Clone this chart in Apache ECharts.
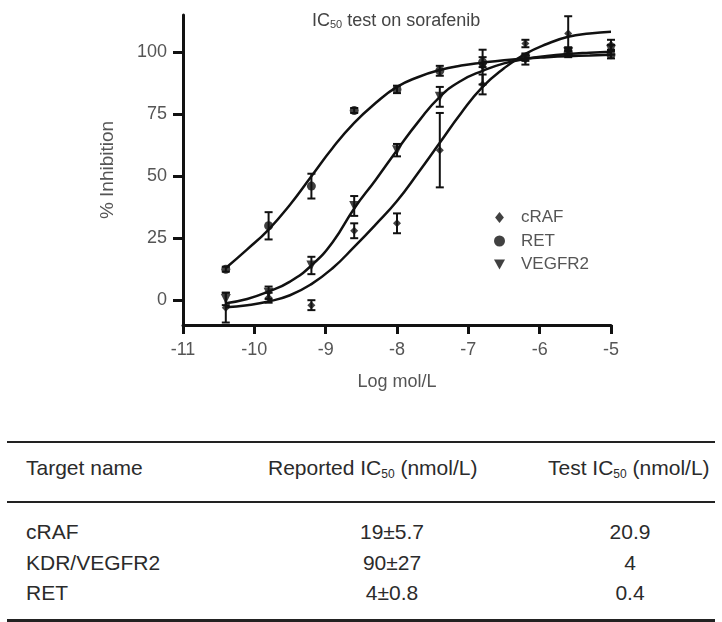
<!DOCTYPE html>
<html>
<head>
<meta charset="utf-8">
<script src="https://cdn.jsdelivr.net/npm/echarts@6/dist/echarts.min.js"></script>
<style>
  html, body { margin: 0; padding: 0; background: #fff; }
  #wrap { position: relative; width: 722px; height: 622px; overflow: hidden; }
  #chart { position: absolute; left: 0; top: 0; width: 722px; height: 410px; }
  .rule { position: absolute; left: 7px; width: 708px; background: #222; }
  .cell { position: absolute; font-family: 'Liberation Sans', Arial, sans-serif; font-size: 21px;
          color: #2b2b2b; line-height: 24px; white-space: nowrap; }
  .cell sub { font-size: 12px; vertical-align: -3px; line-height: 0; }
</style>
</head>
<body>
<div id="wrap">
  <div id="chart"></div>
  <div id="table"></div>
</div>
<script>
// Doses on the log mol/L axis (4-fold dilution series)
const logConc = [-10.4, -9.8, -9.2, -8.6, -8.0, -7.4, -6.8, -6.2, -5.6, -5.0];

// Mean % inhibition and the +/- error
const crafMean   = [-3, 1, -2, 28, 31, 60.5, 87, 103.5, 107.5, 103];
const crafErr    = [6, 2, 2, 3, 4, 15, 4, 1.5, 7, 2];
const retMean    = [12.5, 30, 46, 76.5, 85, 92.5, 96, 98, 100, 99];
const retErr     = [1, 5.5, 5, 1, 1.5, 2, 2, 1.5, 1.5, 1.5];
const vegfr2Mean = [0.5, 3, 14, 38, 60.5, 82, 94, 97, 100, 101];
const vegfr2Err  = [2.5, 2.5, 3.5, 4, 2.5, 4, 7, 2, 2, 2];

// Fitted dose-response curves, sampled from the plot
const fitX      = [-10.4, -10.1, -9.8, -9.5, -9.2, -8.9, -8.6, -8.3, -8.0, -7.7, -7.4, -7.1, -6.8, -6.5, -6.2, -5.9, -5.6, -5.3, -5.0];
const crafFit   = [-2.8, -2, -0.5, 2, 6.5, 13, 21.5, 30.5, 40, 51.5, 63.5, 75.5, 86, 93.5, 99.3, 103.3, 106.2, 107.5, 108.2];
const retFit    = [13, 20.5, 28.5, 38.5, 50, 61.5, 71.5, 79.5, 86, 90, 92.8, 94.6, 95.8, 96.8, 97.5, 98, 98.4, 98.7, 99];
const vegfr2Fit = [-1.2, 0.5, 3.5, 7.5, 14, 23.5, 37, 48.5, 60.5, 72, 82, 88.5, 92.5, 95.5, 97.3, 98.5, 99.3, 99.8, 100.2];

const yTicks = [0, 25, 50, 75, 100];

// Summary table
const targetNames  = ['cRAF', 'KDR/VEGFR2', 'RET'];
const reportedIC50 = ['19±5.7', '90±27', '4±0.8'];
const testIC50     = ['20.9', '4', '0.4'];

const ink = '#111';
const grey = '#555';
const font = "'Liberation Sans', Arial, sans-serif";
const downTriangle = 'path://M0,0 L10,0 L5,9 Z';
const smallDiamond = 'path://M4,0 L8,5 L4,10 L0,5 Z';

function points(xs, ys) {
  return xs.map((x, i) => [x, ys[i]]);
}

function bars(means, errs) {
  return logConc.map((x, i) => [x, means[i] - errs[i], means[i] + errs[i]]);
}

// Draw one vertical error bar with caps
function errorBarItem(params, api) {
  const x = api.value(0);
  const lo = api.coord([x, api.value(1)]);
  const hi = api.coord([x, api.value(2)]);
  const cap = 4;
  const style = { stroke: ink, lineWidth: 2 };
  return {
    type: 'group',
    children: [
      { type: 'line', shape: { x1: lo[0], y1: lo[1], x2: hi[0], y2: hi[1] }, style },
      { type: 'line', shape: { x1: lo[0] - cap, y1: lo[1], x2: lo[0] + cap, y2: lo[1] }, style },
      { type: 'line', shape: { x1: hi[0] - cap, y1: hi[1], x2: hi[0] + cap, y2: hi[1] }, style }
    ]
  };
}

function fitSeries(name, ys) {
  return {
    name: name, type: 'line', data: points(fitX, ys), smooth: true,
    showSymbol: false, silent: true, z: 2,
    lineStyle: { color: ink, width: 2.5 }
  };
}

function errSeries(name, means, errs) {
  return {
    name: name, type: 'custom', data: bars(means, errs), renderItem: errorBarItem,
    encode: { x: 0, y: [1, 2] }, z: 3, silent: true
  };
}

function dotSeries(name, means, symbol, size) {
  return {
    name: name, type: 'scatter', data: points(logConc, means), symbol: symbol,
    symbolSize: size, itemStyle: { color: ink }, z: 4
  };
}

const chart = echarts.init(document.getElementById('chart'), null, { renderer: 'canvas' });

chart.setOption({
  animation: false,
  title: {
    text: '{a|IC}{s|50}{a| test on sorafenib}',
    left: 307, top: 5,
    textStyle: {
      fontWeight: 'normal',
      rich: {
        a: { fontSize: 18, fontWeight: 'normal', color: '#444', fontFamily: font, verticalAlign: 'bottom', lineHeight: 20 },
        s: { fontSize: 11, fontWeight: 'normal', color: '#444', fontFamily: font, verticalAlign: 'bottom', lineHeight: 14 }
      }
    }
  },
  legend: {
    orient: 'vertical', left: 489, top: 204,
    itemWidth: 11, itemHeight: 11, itemGap: 6.5,
    selectedMode: false,
    textStyle: { fontSize: 17, color: grey, fontFamily: font, lineHeight: 17, padding: [0, 0, 0, 11] },
    data: [
      { name: 'cRAF', icon: smallDiamond },
      { name: 'RET', icon: 'circle' },
      { name: 'VEGFR2', icon: downTriangle }
    ]
  },
  grid: { left: 183, right: 111, top: 15, bottom: 85 },
  xAxis: {
    type: 'value', min: -11, max: -5, interval: 1,
    name: 'Log mol/L', nameLocation: 'middle', nameGap: 48,
    nameTextStyle: { fontSize: 18, color: grey, fontFamily: font },
    axisLine: { onZero: false, lineStyle: { color: ink, width: 3 } },
    axisTick: { length: 9, lineStyle: { color: ink, width: 3 } },
    axisLabel: { fontSize: 18, color: grey, fontFamily: font, margin: 16 },
    splitLine: { show: false }
  },
  yAxis: {
    type: 'value', min: -10, max: 115,
    name: '% Inhibition', nameLocation: 'middle', nameGap: 66,
    nameTextStyle: { fontSize: 19, color: grey, fontFamily: font },
    axisLine: { show: true, lineStyle: { color: ink, width: 3 } },
    axisTick: { show: true, length: 10, customValues: yTicks, lineStyle: { color: ink, width: 3 } },
    axisLabel: { fontSize: 18, color: grey, fontFamily: font, margin: 16, customValues: yTicks },
    splitLine: { show: false }
  },
  series: [
    fitSeries('cRAF fit', crafFit),
    fitSeries('RET fit', retFit),
    fitSeries('VEGFR2 fit', vegfr2Fit),
    errSeries('cRAF error', crafMean, crafErr),
    errSeries('RET error', retMean, retErr),
    errSeries('VEGFR2 error', vegfr2Mean, vegfr2Err),
    dotSeries('cRAF', crafMean, 'diamond', 8),
    dotSeries('RET', retMean, 'circle', 9),
    dotSeries('VEGFR2', vegfr2Mean, downTriangle, 10)
  ]
});

// Table below the chart
function addEl(cls, css, html) {
  const el = document.createElement('div');
  el.className = cls;
  el.style.cssText = css;
  if (html !== undefined) el.innerHTML = html;
  document.getElementById('table').appendChild(el);
  return el;
}

addEl('rule', 'top:440.5px;height:2.5px;');
addEl('rule', 'top:500.5px;height:2px;');
addEl('rule', 'top:619px;height:2.5px;');

const headerY = 456;
addEl('cell', `left:26px;top:${headerY}px;`, 'Target name');
addEl('cell', `left:268px;top:${headerY}px;`, 'Reported IC<sub>50</sub> (nmol/L)');
addEl('cell', `left:548px;top:${headerY}px;`, 'Test IC<sub>50</sub> (nmol/L)');

const rowY = [520, 551, 581];
targetNames.forEach((name, i) => {
  addEl('cell', `left:26px;top:${rowY[i]}px;`, name);
  addEl('cell', `left:292px;width:200px;text-align:center;top:${rowY[i]}px;`, reportedIC50[i]);
  addEl('cell', `left:530px;width:200px;text-align:center;top:${rowY[i]}px;`, testIC50[i]);
});
</script>
</body>
</html>
